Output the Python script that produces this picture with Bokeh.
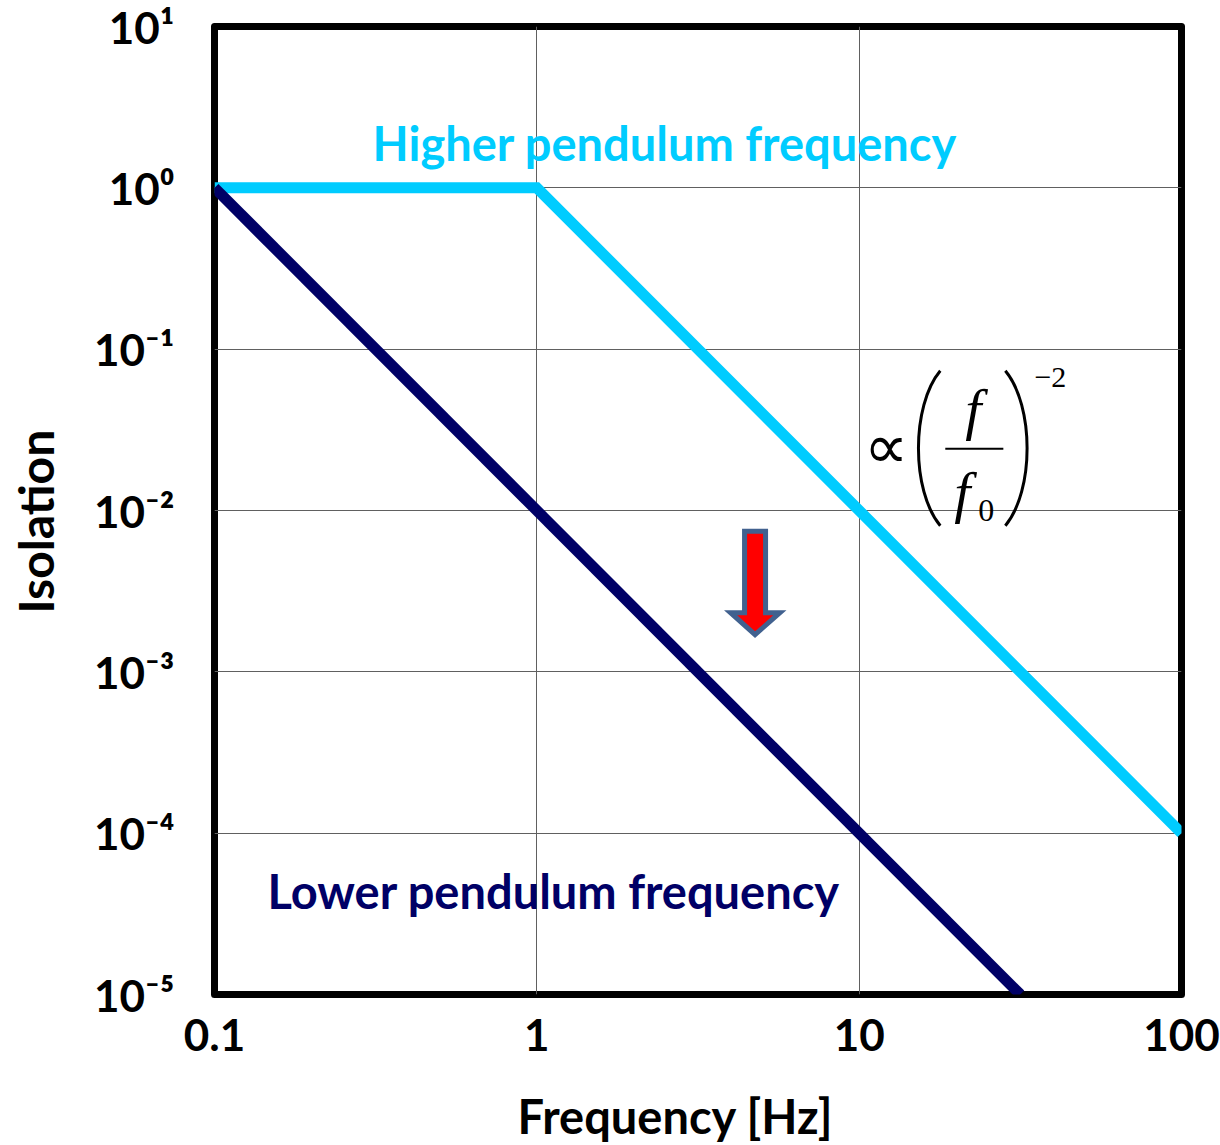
import math
from bokeh.plotting import figure
from bokeh.models import (Range1d, FixedTicker, Label, Title, CustomJSTickFormatter,
                          LinearAxis)
from bokeh.embed import file_html
from bokeh.resources import INLINE

# ---------------- data ----------------
freq_higher = [0.1, 1.0, 100.0]
iso_higher = [1.0, 1.0, 1e-4]
freq_lower = [0.1, 31.62]
iso_lower = [1.0, 1e-5]

x_ticks = [0.1, 1, 10, 100]
y_exponents = [-5, -4, -3, -2, -1, 0, 1]
y_ticks = [10.0 ** e for e in y_exponents]
SUP = str.maketrans("-0123456789", "\u207b\u2070\u00b9\u00b2\u00b3\u2074\u2075\u2076\u2077\u2078\u2079")
y_tick_labels = ["10" + str(e).translate(SUP) for e in y_exponents]

label_higher = "Higher pendulum frequency"
label_lower = "Lower pendulum frequency"
x_title = "Frequency [Hz]"
y_title = "Isolation"

HI = "#00CCFF"
LO = "#000066"
FONT = "Lato"
SERIF = "Liberation Serif"

p = figure(width=1220, height=1145, x_axis_type="log", y_axis_type="log",
           x_range=Range1d(0.1, 100), y_range=Range1d(1e-5, 10),
           output_backend="svg", toolbar_location=None,
           min_border_left=214, min_border_right=39,
           min_border_top=26, min_border_bottom=151)
p.background_fill_color = "white"
p.border_fill_color = "white"
p.outline_line_color = "black"
p.outline_line_width = 7
p.outline_line_join = "round"

# grids
p.xgrid.ticker = FixedTicker(ticks=x_ticks)
p.ygrid.ticker = FixedTicker(ticks=y_ticks)
for g in (p.xgrid, p.ygrid):
    g.grid_line_color = "#606060"
    g.grid_line_width = 1
    g.minor_grid_line_color = None

# x axis
xa = p.xaxis[0]
xa.ticker = FixedTicker(ticks=x_ticks)
xa.formatter = CustomJSTickFormatter(code="return tick.toString()")
xa.axis_line_color = None
xa.major_tick_line_color = None
xa.minor_tick_line_color = None
xa.major_tick_out = 0
xa.major_label_text_font = FONT
xa.major_label_text_font_style = "bold"
xa.major_label_text_font_size = "44px"
xa.major_label_text_color = "black"
xa.major_label_standoff = 24

# y axis
ya = p.yaxis[0]
ya.ticker = FixedTicker(ticks=y_ticks)
ya.formatter = CustomJSTickFormatter(code="return ''")
ya.major_label_overrides = {t: s for t, s in zip(y_ticks, y_tick_labels)}
ya.axis_line_color = None
ya.major_tick_line_color = None
ya.minor_tick_line_color = None
ya.major_tick_out = 0
ya.major_label_text_font = FONT
ya.major_label_text_font_style = "bold"
ya.major_label_text_font_size = "44px"
ya.major_label_text_color = "black"
ya.major_label_standoff = 40

# invisible spacer axes (one hidden tick each) between tick labels and titles
def spacer(gap):
    return LinearAxis(ticker=FixedTicker(ticks=[1.0]),
                      formatter=CustomJSTickFormatter(code="return ''"),
                      axis_line_color=None, major_tick_line_color=None,
                      minor_tick_line_color=None, major_tick_in=0,
                      major_tick_out=gap, minor_tick_out=0, major_label_standoff=0,
                      major_label_text_font_size="1px")

p.add_layout(spacer(32), "below")
p.add_layout(Title(text=x_title, align="left", offset=303, standoff=0,
                   text_font=FONT, text_font_style="bold", text_font_size="47px",
                   text_color="black"), "below")
p.add_layout(spacer(28), "left")
p.add_layout(Title(text=y_title, align="left", offset=381, standoff=0,
                   text_font=FONT, text_font_style="bold", text_font_size="48px",
                   text_color="black"), "left")

# lines
p.line(freq_higher, iso_higher, line_color=HI, line_width=11, line_join="miter")
p.line(freq_lower, iso_lower, line_color=LO, line_width=11)

# series labels
p.add_layout(Label(x=2.497, y=1.900, text=label_higher, text_align="center",
                   text_baseline="middle", text_font=FONT, text_font_style="bold",
                   text_font_size="47px", text_color=HI))
p.add_layout(Label(x=1.129, y=4.41e-5, text=label_lower, text_align="center",
                   text_baseline="middle", text_font=FONT, text_font_style="bold",
                   text_font_size="47px", text_color=LO))

# formula  ∝ (f / f0)^-2
p.add_layout(Label(x=12.13, y=0.02485, text="\u221d", text_align="center",
                   text_baseline="middle", text_font=SERIF, text_font_size="62px",
                   text_color="black"))
p.bezier(x0=[17.85], y0=[0.07348], x1=[17.85], y1=[0.008047],
         cx0=[14.50], cy0=[0.04460], cx1=[14.50], cy1=[0.01327],
         line_color="black", line_width=3)
p.bezier(x0=[28.41], y0=[0.07348], x1=[28.41], y1=[0.008047],
         cx0=[34.95], cy0=[0.04460], cx1=[34.95], cy1=[0.01327],
         line_color="black", line_width=3)
p.line([18.50, 28.01], [0.02415, 0.02415], line_color="black", line_width=2)
p.add_layout(Label(x=22.6, y=0.0420, text="f", text_align="center",
                   text_baseline="middle", text_font=SERIF, text_font_style="italic",
                   text_font_size="58px", text_color="black"))
p.add_layout(Label(x=20.9, y=0.01300, text="f", text_align="center",
                   text_baseline="middle", text_font=SERIF, text_font_style="italic",
                   text_font_size="58px", text_color="black"))
p.add_layout(Label(x=24.80, y=0.009972, text="0", text_align="center",
                   text_baseline="middle", text_font=SERIF,
                   text_font_size="32px", text_color="black"))
p.add_layout(Label(x=39.2, y=0.06648, text="\u22122", text_align="center",
                   text_baseline="middle", text_font=SERIF,
                   text_font_size="30px", text_color="black"))

# arrow
arrow_x = [4.410, 5.124, 5.124, 5.675, 4.753, 3.990, 4.410]
arrow_y = [0.007442, 0.007442, 0.002326, 0.002326, 0.001700, 0.002326, 0.002326]
p.patch(arrow_x, arrow_y, fill_color="#FF0000", line_color="#41618F", line_width=5,
        line_join="miter")

open("out.html", "w").write(file_html(p, INLINE))
